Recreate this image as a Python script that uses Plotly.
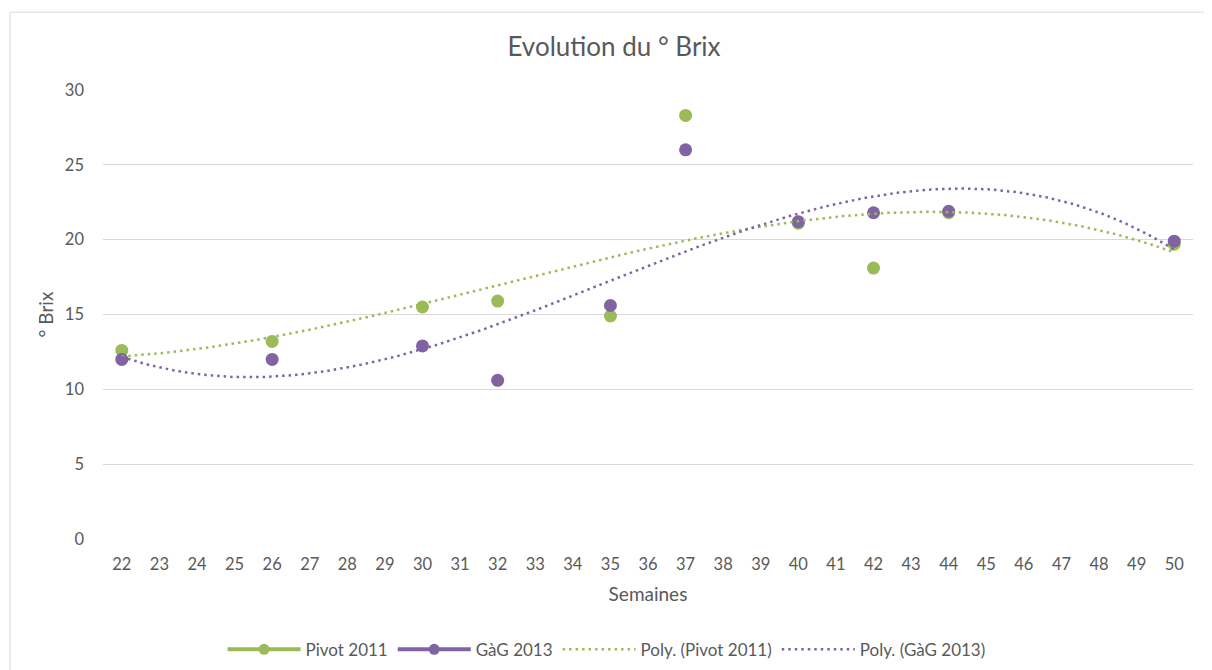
import numpy as np
import plotly.graph_objects as go

weeks = [22, 26, 30, 32, 35, 37, 40, 42, 44, 50]
pivot_2011 = [12.6, 13.2, 15.5, 15.9, 14.9, 28.3, 21.1, 18.1, 21.8, 19.7]
gag_2013 = [12.0, 12.0, 12.9, 10.6, 15.6, 26.0, 21.2, 21.8, 21.9, 19.9]
week_ticks = list(range(22, 51))
y_ticks = [0, 5, 10, 15, 20, 25, 30]

GREEN = "#9BBB59"
PURPLE = "#8064A2"
FONT = "Lato"
TXT = "#595959"

fig = go.Figure()

xs = np.linspace(min(weeks), max(weeks), 300)

# data points
fig.add_trace(go.Scatter(x=weeks, y=pivot_2011, mode="markers", name="Pivot 2011",
                         marker=dict(color=GREEN, size=13), showlegend=False))
fig.add_trace(go.Scatter(x=weeks, y=gag_2013, mode="markers", name="GàG 2013",
                         marker=dict(color=PURPLE, size=13), showlegend=False))

# polynomial (order 3) trendlines, like Excel
trend_traces = []
for name, vals, col in [("Poly. (Pivot 2011)", pivot_2011, GREEN),
                        ("Poly. (GàG 2013)", gag_2013, PURPLE)]:
    coef = np.polyfit(weeks, vals, 3)
    trend_traces.append(go.Scatter(x=xs, y=np.polyval(coef, xs), mode="lines", name=name,
                                   line=dict(color=col, width=2.5, dash="2.5px,4px"),
                                   hoverinfo="skip"))

# legend entries (line + marker, as in the original)
fig.add_trace(go.Scatter(x=[None], y=[None], mode="lines+markers", name="Pivot 2011",
                         line=dict(color=GREEN, width=4), marker=dict(color=GREEN, size=11)))
fig.add_trace(go.Scatter(x=[None], y=[None], mode="lines+markers", name="GàG 2013",
                         line=dict(color=PURPLE, width=4), marker=dict(color=PURPLE, size=11)))
for t in trend_traces:
    fig.add_trace(t)

fig.update_layout(
    width=1212, height=670,
    paper_bgcolor="white", plot_bgcolor="white",
    margin=dict(l=95, r=27, t=82, b=138),
    font=dict(family=FONT, color=TXT, size=16),
    title=dict(text="Evolution du ° Brix", x=0.5, xanchor="center", y=0.942, yanchor="middle",
               font=dict(size=26, color=TXT, family=FONT)),
    legend=dict(orientation="h", x=0.462, xanchor="center", y=-0.244, yanchor="middle",
                font=dict(size=17, color=TXT), itemwidth=73, tracegroupgap=0),
    showlegend=True,
)
fig.update_xaxes(range=[21.5, 50.5], tickmode="array", tickvals=week_ticks,
                 ticktext=[str(w) for w in week_ticks], showgrid=False, zeroline=False,
                 showline=False, ticks="", ticklabelstandoff=13, tickfont=dict(size=16.5),
                 title=dict(text="Semaines", font=dict(size=19, color=TXT), standoff=15))
fig.update_yaxes(range=[0, 30], tickmode="array", tickvals=y_ticks, showgrid=True,
                 gridcolor="#D9D9D9", gridwidth=1, zeroline=False, showline=False, ticks="",
                 ticklabelstandoff=18, tickfont=dict(size=16.5),
                 title=dict(text="° Brix", font=dict(size=19, color=TXT), standoff=6))
fig.add_shape(type="rect", xref="paper", yref="paper", x0=-0.0853, x1=1.2, y0=-0.5, y1=1.1733,
              line=dict(color="#D9D9D9", width=1), layer="below")

fig.write_html("out.html")
